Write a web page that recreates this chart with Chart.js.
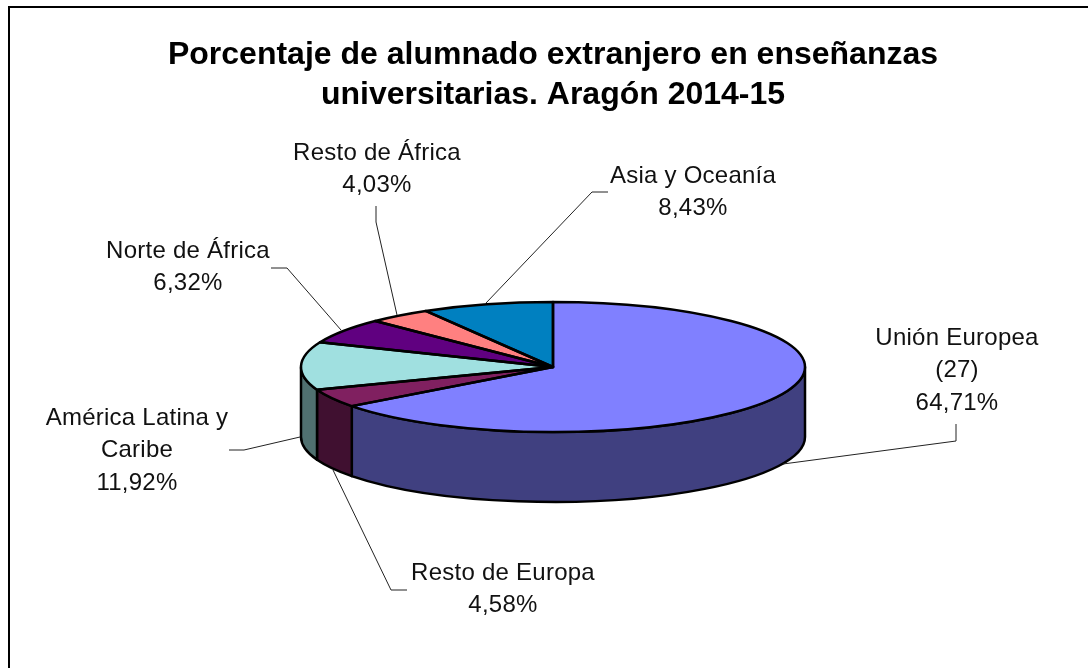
<!DOCTYPE html>
<html lang="es">
<head>
    <meta charset="UTF-8">
    <title>Porcentaje de alumnado extranjero</title>
    <script src="https://cdn.jsdelivr.net/npm/chart.js"></script>
    <style>
        body { margin: 0; background: #fff; overflow: hidden; }
        #frame { position: absolute; left: 8px; top: 6px; right: 0; bottom: 0; border-left: 2px solid #000; border-top: 2px solid #000; }
        canvas { position: absolute; left: 0; top: 0; }
    </style>
</head>
<body>
    <div id="frame"></div>
    <canvas id="pie" width="1088" height="668"></canvas>
    <script>
        const titleLines = ["Porcentaje de alumnado extranjero en enseñanzas", "universitarias. Aragón 2014-15"];
        const categories = ["Unión Europea (27)", "Resto de Europa", "América Latina y Caribe", "Norte de África", "Resto de África", "Asia y Oceanía"];
        const percents = [64.71, 4.58, 11.92, 6.32, 4.03, 8.43];
        const topColors = ["#8080ff", "#802060", "#a0e0e0", "#600080", "#ff8080", "#0080c0"];
        const wallColors = ["#404080", "#401030", "#507070", "#300040", "#804040", "#004060"];

        // label text split the way the picture wraps it
        const labelLines = [["Unión Europea", "(27)"], ["Resto de Europa"], ["América Latina y", "Caribe"], ["Norte de África"], ["Resto de África"], ["Asia y Oceanía"]];
        const labelCenterX = [957, 503, 137, 188, 377, 693];
        const labelFirstY = [338, 573, 418, 251, 153, 176];
        const labelLineStep = 32.5;
        const leaders = [
            [[956, 424], [956, 441], [783, 464]],
            [[407, 590], [391, 590], [333, 470]],
            [[229, 450], [244, 450], [300, 437]],
            [[271, 268], [287, 268], [341, 330]],
            [[376, 206], [376, 222], [397, 315]],
            [[608, 192], [592, 192], [486, 303]]
        ];

        const pieCenterX = 553, pieCenterY = 367, pieRadius = 252, squash = 65 / 252, pieDepth = 70;

        const pie3d = {
            id: "pie3d",
            beforeDatasetsDraw(chart) {
                const ctx = chart.ctx;
                ctx.lineWidth = 2.5;
                ctx.lineJoin = "round";
                ctx.strokeStyle = "#000";
                chart.getDatasetMeta(0).data.forEach((arc, i) => {
                    const a = Math.max(arc.startAngle, 0), b = Math.min(arc.endAngle, Math.PI);
                    if (b <= a) return;
                    ctx.save();
                    ctx.translate(pieCenterX, pieCenterY);
                    ctx.scale(1, squash);
                    ctx.beginPath();
                    ctx.arc(0, 0, arc.outerRadius, a, b);
                    ctx.arc(0, pieDepth / squash, arc.outerRadius, b, a, true);
                    ctx.closePath();
                    ctx.restore();
                    ctx.fillStyle = wallColors[i];
                    ctx.fill();
                    ctx.stroke();
                });
                ctx.save();
                const el = chart.getDatasetMeta(0).data[0];
                ctx.translate(pieCenterX, pieCenterY);
                ctx.scale(1, squash);
                ctx.translate(-el.x, -el.y);
            },
            afterDatasetsDraw(chart) {
                const ctx = chart.ctx;
                ctx.restore();
                // outlines stroked outside the squash so the pen stays round
                ctx.lineWidth = 2.5;
                ctx.lineJoin = "round";
                ctx.strokeStyle = "#000";
                chart.getDatasetMeta(0).data.forEach(arc => {
                    ctx.save();
                    ctx.translate(pieCenterX, pieCenterY);
                    ctx.scale(1, squash);
                    ctx.beginPath();
                    ctx.moveTo(0, 0);
                    ctx.arc(0, 0, arc.outerRadius, arc.startAngle, arc.endAngle);
                    ctx.closePath();
                    ctx.restore();
                    ctx.stroke();
                });

                ctx.lineWidth = 1;
                ctx.strokeStyle = "#222";
                leaders.forEach(pts => {
                    ctx.beginPath();
                    pts.forEach((p, j) => j ? ctx.lineTo(p[0], p[1]) : ctx.moveTo(p[0], p[1]));
                    ctx.stroke();
                });

                ctx.fillStyle = "#111";
                ctx.font = '24px "Liberation Sans"';
                ctx.letterSpacing = "0.25px";
                ctx.textAlign = "center";
                ctx.textBaseline = "middle";
                categories.forEach((c, i) => {
                    const lines = labelLines[i].concat(percents[i].toFixed(2).replace(".", ",") + "%");
                    lines.forEach((t, j) => ctx.fillText(t, labelCenterX[i], labelFirstY[i] + j * labelLineStep));
                });
                ctx.letterSpacing = "0px";
            }
        };

        new Chart(document.getElementById("pie"), {
            type: "pie",
            data: {
                labels: categories,
                datasets: [{
                    data: percents,
                    backgroundColor: topColors,
                    borderWidth: 0,
                    clip: false
                }]
            },
            options: {
                responsive: false,
                animation: false,
                events: [],
                radius: pieRadius,
                layout: { padding: { left: 18 } },
                plugins: {
                    legend: { display: false },
                    tooltip: { enabled: false },
                    title: {
                        display: true,
                        text: titleLines,
                        color: "#000",
                        font: { family: '"Liberation Sans"', size: 32, weight: "bold", lineHeight: 1.25 },
                        padding: { top: 35, bottom: 10 }
                    }
                }
            },
            plugins: [pie3d]
        });
    </script>
</body>
</html>
